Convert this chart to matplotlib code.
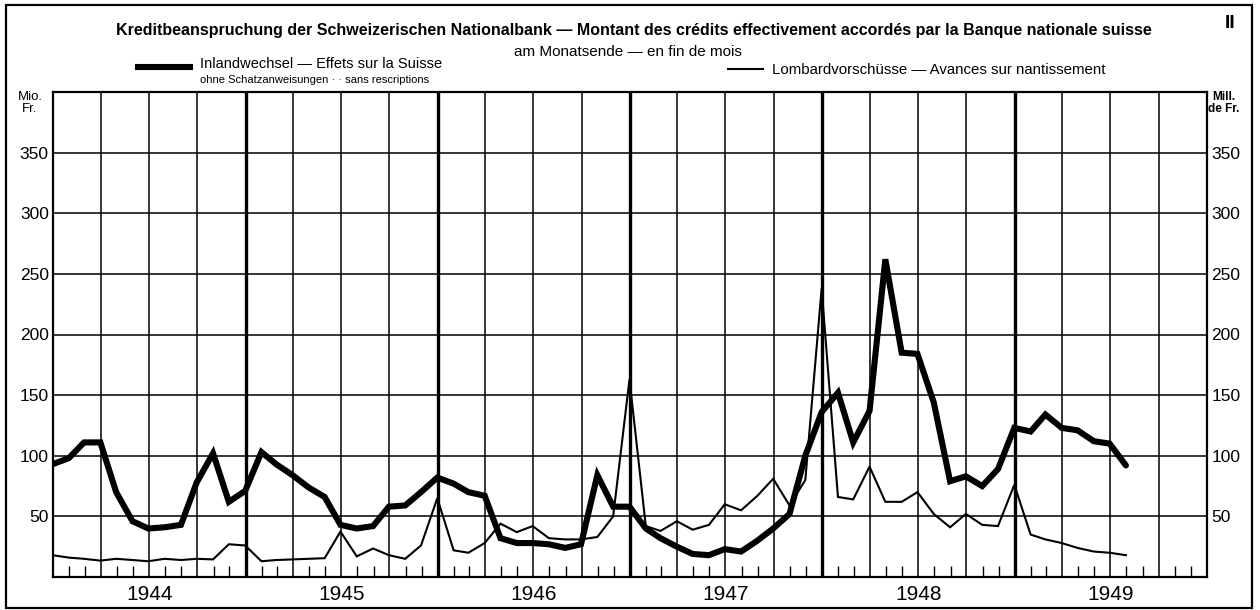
import pandas as pd
import matplotlib.pyplot as plt
import matplotlib.dates as mdates
from matplotlib.lines import Line2D
from matplotlib.patches import Rectangle

# month-end values in Mio. Fr., Dec 1943 .. Jul 1949
inlandwechsel = [93, 98, 111, 111, 70, 46, 40, 41, 43, 78, 102, 62,
                 71, 103, 93, 84, 74, 66, 43, 40, 42, 58, 59, 70,
                 82, 77, 70, 67, 32, 28, 28, 27, 24, 27, 84, 58,
                 58, 40, 32, 25, 19, 18, 23, 21, 30, 40, 52, 100,
                 136, 152, 111, 137, 262, 185, 184, 144, 79, 83, 75, 89,
                 123, 120, 134, 123, 121, 112, 110, 92]
lombard = [18, 16, 15, 13.5, 15, 14, 13, 15, 14, 15, 14.5, 27,
           26, 13, 14, 14.5, 15, 15.5, 37.5, 17, 23.5, 18, 15, 26,
           65, 22, 20, 28, 44, 37, 42, 32, 31, 31, 33, 50,
           163, 42, 38, 46, 39, 43, 60, 55, 67, 81, 59, 80,
           238, 66, 64, 91, 62, 62, 70, 52, 41, 52, 43, 42,
           76, 35, 31, 28, 24, 21, 20, 18]
years = [1944, 1945, 1946, 1947, 1948, 1949]
y_ticks = [50, 100, 150, 200, 250, 300, 350]

months = pd.date_range('1943-12-31', periods=len(inlandwechsel), freq='ME')

plain = ['Liberation Sans', 'DejaVu Sans']
W, H = 1260, 610


def fx(px):
    return px / W


def fy(py):
    return 1 - py / H


fig = plt.figure(figsize=(12.6, 6.1), dpi=100)
ax = fig.add_axes([fx(53), fy(577), fx(1207) - fx(53), fy(92) - fy(577)])

ax.plot(months, lombard, color='black', lw=1.5, solid_joinstyle='miter')
ax.plot(months, inlandwechsel, color='black', lw=4.4, solid_joinstyle='miter',
        solid_capstyle='round')

ax.set_xlim(pd.Timestamp('1944-01-01'), pd.Timestamp('1950-01-01'))
ax.set_ylim(0, 400)

# grid: quarters and 50-steps, heavier lines at year boundaries
ax.xaxis.set_major_locator(mdates.MonthLocator(bymonth=[1, 4, 7, 10]))
ax.xaxis.set_minor_locator(mdates.MonthLocator())
ax.xaxis.set_major_formatter(plt.NullFormatter())
ax.set_yticks(y_ticks)
ax.grid(True, which='major', color='black', lw=1.1)
for yr in years[1:]:
    ax.axvline(pd.Timestamp(f'{yr}-01-01'), color='black', lw=2.4)

ax.tick_params(axis='x', which='major', length=0)
ax.tick_params(axis='x', which='minor', direction='in', length=8, width=1,
               color='black')
ax.tick_params(axis='y', length=0, pad=3, labelright=True, labelsize=12.5)
for lbl in ax.get_yticklabels():
    lbl.set_family(plain)
for s in ax.spines.values():
    s.set_linewidth(1.6)

for yr in years:
    ax.text(pd.Timestamp(f'{yr}-07-02'), -0.036, str(yr),
            transform=ax.get_xaxis_transform(), ha='center', va='center',
            fontsize=15, family=plain)

# titles and legend
fig.text(fx(634), fy(30),
         'Kreditbeanspruchung der Schweizerischen Nationalbank — Montant des '
         'crédits effectivement accordés par la Banque nationale suisse',
         ha='center', va='center', fontsize=11.5, fontweight='bold', family=plain)
fig.text(fx(1230), fy(23), 'II', ha='center', va='center', fontsize=14,
         fontweight='bold', family=plain)
fig.text(fx(628), fy(52), 'am Monatsende — en fin de mois', ha='center',
         va='center', fontsize=11, family=plain)

fig.add_artist(Line2D([fx(138), fx(190)], [fy(67), fy(67)], color='black', lw=4.4))
fig.text(fx(200), fy(64), 'Inlandwechsel — Effets sur la Suisse', va='center',
         fontsize=10.5, family=plain)
fig.text(fx(200), fy(80), 'ohne Schatzanweisungen · · sans rescriptions',
         va='center', fontsize=8, family=plain)
fig.add_artist(Line2D([fx(728), fx(763)], [fy(69), fy(69)], color='black', lw=1.5))
fig.text(fx(772), fy(70), 'Lombardvorschüsse — Avances sur nantissement',
         va='center', fontsize=10.8, family=plain)

fig.text(fx(30), fy(103), 'Mio.\nFr.', ha='center', va='center', fontsize=9.5,
         family=plain, linespacing=1.0)
fig.text(fx(1224), fy(103), 'Mill.\nde Fr.', ha='center', va='center',
         fontsize=8.5, family=plain, fontweight='bold', linespacing=1.0)

fig.add_artist(Rectangle((fx(6), fy(608)), fx(1252) - fx(6), fy(5) - fy(608),
                         fill=False, lw=1.6, edgecolor='black'))

fig.savefig('out.png', dpi=100, facecolor='white')
